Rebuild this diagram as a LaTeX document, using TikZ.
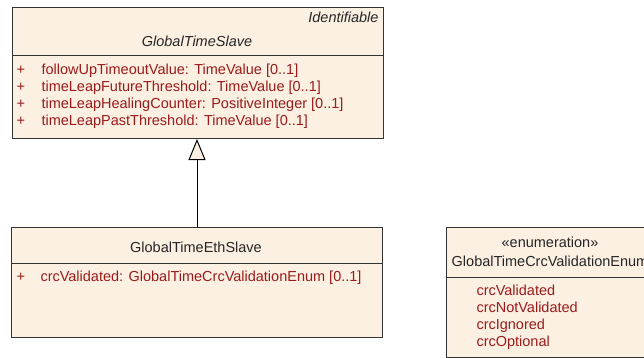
\documentclass[tikz,border=0pt]{standalone}
\usepackage{fontspec}
\setmainfont{Liberation Sans}
\usetikzlibrary{arrows.meta, positioning}
\definecolor{cfill}{HTML}{FBF0E2}
\definecolor{cred}{HTML}{9B1B1B}
\definecolor{cline}{HTML}{333333}
\tikzset{
  every picture/.style={font=\fontsize{14.5}{17}\selectfont, line width=1pt},
  classbox/.style={draw=cline, fill=cfill, inner sep=0pt, anchor=north west},
  sepline/.style={draw=cline, line width=1pt},
  classname/.style={inner sep=0pt, anchor=base, text=black!85},
  attrtext/.style={inner sep=0pt, anchor=base west, text=cred},
  inherit/.style={-{Triangle[open, length=21pt, width=17pt, fill=cfill]}, draw=black, line width=1pt},
}

\begin{document}
\begin{tikzpicture}[x=1pt, y=-1pt]
  \useasboundingbox (0,0) rectangle (644,358);
  % boxes
  \node[classbox, minimum width=371pt, minimum height=131pt] (slave) at (12,7) {};
  \node[classbox, minimum width=371pt, minimum height=110pt] (eth) at (11,227) {};
  \node[classbox, minimum width=208pt, minimum height=130pt] (enum) at (446,227) {};
  \draw[sepline] (slave.west |- 0,56) -- (slave.east |- 0,56);
  \draw[sepline] (eth.west |- 0,263) -- (eth.east |- 0,263);
  \draw[sepline] (enum.west |- 0,277) -- (enum.east |- 0,277);
  % GlobalTimeSlave
  \node[classname, anchor=base east, font=\fontsize{14.5}{17}\selectfont\itshape] (slaveParent) at (379,23) {Identifiable};
  \node[classname, font=\fontsize{14.5}{17}\selectfont\itshape] (slaveName) at (197,47) {GlobalTimeSlave};
  \node[attrtext] (slaveP1) at (16,75) {+};
  \node[attrtext] (slaveA1) at (41,75) {followUpTimeoutValue: TimeValue [0..1]};
  \node[attrtext] (slaveP2) at (16,92) {+};
  \node[attrtext] (slaveA2) at (41,92) {timeLeapFutureThreshold: TimeValue [0..1]};
  \node[attrtext] (slaveP3) at (16,109) {+};
  \node[attrtext] (slaveA3) at (41,109) {timeLeapHealingCounter: PositiveInteger [0..1]};
  \node[attrtext] (slaveP4) at (16,126) {+};
  \node[attrtext] (slaveA4) at (41,126) {timeLeapPastThreshold: TimeValue [0..1]};
  % GlobalTimeEthSlave
  \node[classname] (ethName) at (196,252) {GlobalTimeEthSlave};
  \node[attrtext] (ethP1) at (16,281) {+};
  \node[attrtext] (ethA1) at (40,281) {crcValidated: GlobalTimeCrcValidationEnum [0..1]};
  % GlobalTimeCrcValidationEnum
  \node[classname] (enumStereo) at (550,247) {«enumeration»};
  \node[classname] (enumName) at (550,266) {GlobalTimeCrcValidationEnum};
  \node[attrtext] (enumL1) at (476,295) {crcValidated};
  \node[attrtext] (enumL2) at (476,312) {crcNotValidated};
  \node[attrtext] (enumL3) at (476,329) {crcIgnored};
  \node[attrtext] (enumL4) at (476,346) {crcOptional};
  % generalization
  \draw[inherit] (eth.north) -- (eth.north |- slave.south);
\end{tikzpicture}
\end{document}
